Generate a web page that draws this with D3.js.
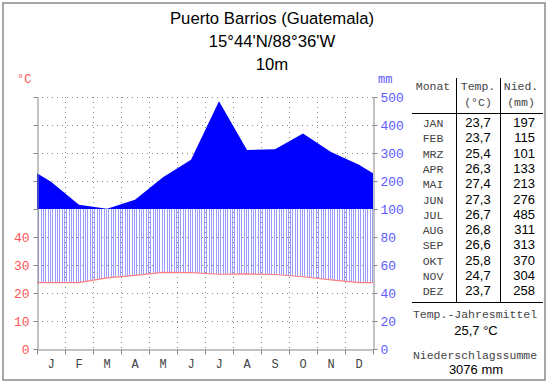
<!DOCTYPE html>
<html>
<head>
<meta charset="utf-8">
<script src="https://cdn.jsdelivr.net/npm/d3@7"></script>
<style>
body{margin:0;background:#fff;}
svg{display:block;}
.mono{font-family:"Liberation Mono","DejaVu Sans Mono",monospace;}
.sans{font-family:"Liberation Sans",Arial,sans-serif;}
</style>
</head>
<body>
<div id="chart"></div>
<script>
// Klimadiagramm Puerto Barrios
var title = ["Puerto Barrios (Guatemala)", "15°44'N/88°36'W", "10m"];
var monthInitials = ["J","F","M","A","M","J","J","A","S","O","N","D"];
var monthAbbr = ["JAN","FEB","MRZ","APR","MAI","JUN","JUL","AUG","SEP","OKT","NOV","DEZ"];
var temps = [23.7,23.7,25.4,26.3,27.4,27.3,26.7,26.8,26.6,25.8,24.7,23.7];
var precip = [197,115,101,133,213,276,485,311,313,370,304,258];
var mmTicks = [0,20,40,60,80,100,200,300,400,500];
var meanTemp = "25,7 °C";
var totalPrecip = "3076 mm";

var width = 550, height = 384;
var plot = {left:37, right:373, top:97, bottom:349};

var svg = d3.select("#chart").append("svg")
  .attr("width", width).attr("height", height);

svg.append("rect").attr("x",3).attr("y",3).attr("width",542).attr("height",377)
  .attr("fill","none").attr("stroke","#8a8a8a").attr("stroke-width",1.5);

// titles
svg.selectAll(".title").data(title).enter().append("text")
  .attr("class","sans")
  .attr("x",272).attr("y",function(d,i){ return 23.5 + i*23.3; })
  .attr("text-anchor","middle").attr("font-size","16.7px").attr("fill","#000")
  .text(function(d){ return d; });

// scales
var x = d3.scaleLinear().domain([0,12]).range([plot.left, plot.right]);
var xb = d3.scaleBand().domain(d3.range(12)).range([plot.left, plot.right]);
// mm scale: 20 mm per 10°C below 100 mm, compressed above
var yP = d3.scaleLinear().domain([0,100,500]).range([plot.bottom, 209, plot.top]);
var yT = function(t){ return yP(t*2); };

// grid
var grid = svg.append("g");
grid.selectAll(".hg").data([20,40,60,80,200,300,400,500]).enter().append("line")
  .attr("x1",plot.left).attr("x2",plot.right)
  .attr("y1",function(d){ return yP(d)+0.5; }).attr("y2",function(d){ return yP(d)+0.5; })
  .attr("stroke","#888").attr("stroke-dasharray","1,4");
grid.selectAll(".vg").data(d3.range(1,12)).enter().append("line")
  .attr("x1",function(d){ return x(d)+0.5; }).attr("x2",function(d){ return x(d)+0.5; })
  .attr("y1",plot.top).attr("y2",plot.bottom)
  .attr("stroke","#888").attr("stroke-dasharray","1,4");

// extended series (edges = mean of Dec/Jan)
function extend(arr){
  var edge = (arr[0]+arr[11])/2;
  var pts = [[0,edge]];
  arr.forEach(function(v,i){ pts.push([i+0.5,v]); });
  pts.push([12,edge]);
  return pts;
}
var pPts = extend(precip);
var tPts = extend(temps);

function interp(pts, m){
  for(var i=0;i<pts.length-1;i++){
    if(m>=pts[i][0] && m<=pts[i+1][0]){
      var f=(m-pts[i][0])/(pts[i+1][0]-pts[i][0]);
      return pts[i][1]+f*(pts[i+1][1]-pts[i][1]);
    }
  }
  return pts[pts.length-1][1];
}
// humid hatching between temperature curve and 100 mm
var hatch = d3.range(0,144).map(function(k){ return (k+0.5)/12; });
svg.append("g").selectAll("line").data(hatch).enter().append("line")
  .attr("x1",function(d){ return Math.round(x(d))+0.5; })
  .attr("x2",function(d){ return Math.round(x(d))+0.5; })
  .attr("y1",function(d){ return yT(interp(tPts,d)); })
  .attr("y2",function(d){ var p=Math.min(interp(pPts,d),100); return yP(p); })
  .attr("stroke","#9c9cff").attr("stroke-width",1);

// precipitation above 100 mm
var area = d3.area()
  .x(function(d){ return x(d[0]); })
  .y0(yP(100))
  .y1(function(d){ return yP(Math.max(d[1],100)); });
svg.append("path").datum(pPts).attr("d",area).attr("fill","#0000ff");

// temperature line
svg.append("path").datum(tPts)
  .attr("d", d3.line().x(function(d){ return x(d[0]); }).y(function(d){ return yT(d[1]); }))
  .attr("fill","none").attr("stroke","#ff8080").attr("stroke-width",1.2);

// axes
var leftAxis = d3.axisLeft(yP).tickValues(mmTicks).tickSizeInner(4).tickSizeOuter(0).tickPadding(4)
  .tickFormat(function(d){ return d<100 ? d/2 : ""; });
var gl = svg.append("g").attr("transform","translate("+(plot.left+0.5)+",0)").call(leftAxis);

var rightAxis = d3.axisRight(yP).tickValues(mmTicks).tickSizeInner(4).tickSizeOuter(0).tickPadding(3);
var gr = svg.append("g").attr("transform","translate("+(plot.right+0.5)+",0)").call(rightAxis);

var bottomAxis = d3.axisBottom(x).tickValues(d3.range(0,13)).tickSizeInner(5).tickSizeOuter(0).tickFormat("");
var gb = svg.append("g").attr("transform","translate(0,"+(plot.bottom+0.5)+")").call(bottomAxis);

var monthAxis = d3.axisBottom(xb).tickSize(0).tickPadding(10).tickFormat(function(d){ return monthInitials[d]; });
var gm = svg.append("g").attr("transform","translate(0,"+plot.bottom+")").call(monthAxis);
gm.select(".domain").remove();

[gl,gr,gb].forEach(function(g){
  g.selectAll(".domain,line").attr("stroke","#888");
});
gl.selectAll("text").attr("class","mono").attr("font-size","13px").attr("fill","#ff5555");
gr.selectAll("text").attr("class","mono").attr("font-size","13px").attr("fill","#5a5aff");
gm.selectAll("text").attr("class","mono").attr("font-size","12px").attr("fill","#444");

svg.append("text").attr("class","mono").attr("x",17).attr("y",83)
  .attr("font-size","12px").attr("fill","#ff5555").text("°C");
svg.append("text").attr("class","mono").attr("x",378).attr("y",83)
  .attr("font-size","12px").attr("fill","#5a5aff").text("mm");

// table
var tbl = svg.append("g");
var colMonth = 433, colTemp = 478, colPrec = 535;
var monoFs = "11.5px";
tbl.append("text").attr("class","mono").attr("x",colMonth).attr("y",90).attr("text-anchor","middle")
  .attr("font-size",monoFs).attr("fill","#444").text("Monat");
tbl.append("text").attr("class","mono").attr("x",colTemp).attr("y",90).attr("text-anchor","middle")
  .attr("font-size",monoFs).attr("fill","#444").text("Temp.");
tbl.append("text").attr("class","mono").attr("x",colTemp).attr("y",106).attr("text-anchor","middle")
  .attr("font-size",monoFs).attr("fill","#444").text("(°C)");
tbl.append("text").attr("class","mono").attr("x",521).attr("y",90).attr("text-anchor","middle")
  .attr("font-size",monoFs).attr("fill","#444").text("Nied.");
tbl.append("text").attr("class","mono").attr("x",521).attr("y",106).attr("text-anchor","middle")
  .attr("font-size",monoFs).attr("fill","#444").text("(mm)");

tbl.append("line").attr("x1",412).attr("x2",543).attr("y1",113.5).attr("y2",113.5).attr("stroke","#000");
tbl.append("line").attr("x1",412).attr("x2",543).attr("y1",302.5).attr("y2",302.5).attr("stroke","#000");
tbl.append("line").attr("x1",456.5).attr("x2",456.5).attr("y1",78).attr("y2",302).attr("stroke","#000");
tbl.append("line").attr("x1",500.5).attr("x2",500.5).attr("y1",78).attr("y2",302).attr("stroke","#000");

var rowY = function(i){ return 127 + i*15.3; };
tbl.selectAll(".mAbbr").data(monthAbbr).enter().append("text")
  .attr("class","mono").attr("x",colMonth).attr("y",function(d,i){ return rowY(i); })
  .attr("text-anchor","middle").attr("font-size",monoFs).attr("fill","#444").text(function(d){ return d; });
tbl.selectAll(".tVal").data(temps).enter().append("text")
  .attr("class","sans").attr("x",colTemp).attr("y",function(d,i){ return rowY(i); })
  .attr("text-anchor","middle").attr("font-size","13px").attr("fill","#000")
  .text(function(d){ return d.toFixed(1).replace(".",","); });
tbl.selectAll(".pVal").data(precip).enter().append("text")
  .attr("class","sans").attr("x",colPrec).attr("y",function(d,i){ return rowY(i); })
  .attr("text-anchor","end").attr("font-size","13px").attr("fill","#000")
  .text(function(d){ return d; });

tbl.append("text").attr("class","mono").attr("x",475).attr("y",318).attr("text-anchor","middle")
  .attr("font-size",monoFs).attr("fill","#444").text("Temp.-Jahresmittel");
tbl.append("text").attr("class","sans").attr("x",476).attr("y",335).attr("text-anchor","middle")
  .attr("font-size","13px").attr("fill","#000").text(meanTemp);
tbl.append("text").attr("class","mono").attr("x",475).attr("y",359).attr("text-anchor","middle")
  .attr("font-size",monoFs).attr("fill","#444").text("Niederschlagssumme");
tbl.append("text").attr("class","sans").attr("x",476).attr("y",374).attr("text-anchor","middle")
  .attr("font-size","13px").attr("fill","#000").text(totalPrecip);
</script>
</body>
</html>
